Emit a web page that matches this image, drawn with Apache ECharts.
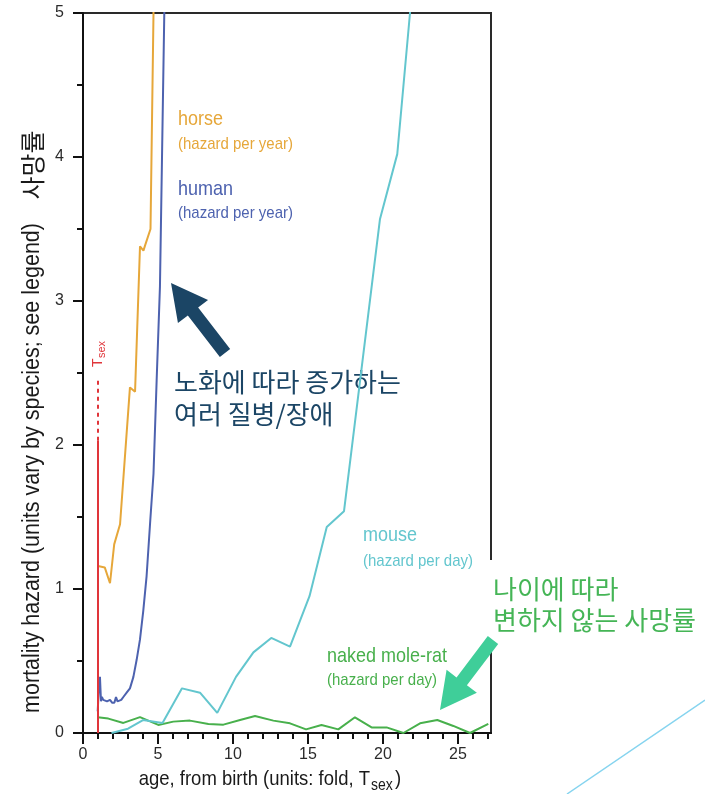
<!DOCTYPE html>
<html>
<head>
<meta charset="utf-8">
<script src="https://cdn.jsdelivr.net/npm/echarts@6/dist/echarts.min.js"></script>
<style>
  html, body { margin: 0; padding: 0; background: #ffffff; }
  #chart { width: 705px; height: 794px; }
</style>
</head>
<body>
<div id="chart"></div>
<script>
// Age (in multiples of T_sex) paired with mortality hazard, one list per species
const horse = [
  [1.0, 1.16], [1.45, 1.15], [1.8, 1.04], [2.08, 1.31], [2.47, 1.45],
  [3.13, 2.4], [3.47, 2.37], [3.8, 3.38], [4.03, 3.35], [4.15, 3.39],
  [4.5, 3.5], [4.7, 5.0], [4.76, 5.5]
];
const human = [
  [0.98, 0.15], [1.05, 0.3], [1.13, 0.39], [1.2, 0.22], [1.26, 0.25],
  [1.35, 0.23], [1.47, 0.23], [1.6, 0.22], [1.8, 0.23], [1.95, 0.21],
  [2.09, 0.21], [2.2, 0.25], [2.3, 0.22], [2.4, 0.22], [2.55, 0.23],
  [2.69, 0.25], [2.91, 0.28], [3.13, 0.31], [3.36, 0.39], [3.58, 0.51],
  [3.8, 0.65], [4.02, 0.85], [4.24, 1.09], [4.5, 1.5], [4.7, 1.8],
  [4.91, 2.45], [5.13, 3.1], [5.26, 3.95], [5.42, 5.0], [5.5, 5.6]
];
const mouse = [
  [1.9, 0.0], [3.0, 0.03], [4.0, 0.09], [5.3, 0.07], [6.6, 0.31],
  [7.8, 0.28], [8.95, 0.14], [10.2, 0.39], [11.36, 0.56], [12.55, 0.66],
  [13.8, 0.6], [15.1, 0.95], [16.25, 1.43], [17.4, 1.54], [19.8, 3.57],
  [20.95, 4.02], [21.8, 5.0], [22.0, 5.3]
];
const moleRat = [
  [0.98, 0.11], [1.69, 0.1], [2.69, 0.07], [3.8, 0.11], [5.02, 0.056],
  [6.02, 0.079], [7.13, 0.086], [8.36, 0.063], [9.36, 0.058], [10.47, 0.09],
  [11.47, 0.118], [12.69, 0.086], [13.8, 0.067], [14.87, 0.025], [15.9, 0.056],
  [17.02, 0.025], [18.13, 0.109], [19.24, 0.039], [20.24, 0.039], [21.36, 0.0],
  [22.47, 0.067], [23.62, 0.09], [24.69, 0.049], [25.8, 0.0], [27.02, 0.063]
];

// Age at sexual maturity and the heights of its marker line
const tSexAge = 1;
const tSexSolidTop = 2.03;
const tSexDashTop = 2.47;

// Axis ranges and ticks
const xMax = 27.2;
const yMax = 5;
const xMajorTicks = [0, 5, 10, 15, 20, 25];
const xMinorTicks = [0, 1, 2, 3, 4, 5, 6, 7, 8, 9, 10, 11, 12, 13, 14, 15, 16, 17, 18, 19, 20, 21, 22, 23, 24, 25, 26, 27];

const COLORS = {
  horse: '#E6A73A',
  human: '#4D62AF',
  mouse: '#63C6CE',
  moleRat: '#48B04C',
  tSex: '#E0353A',
  navy: '#1B4565',
  mint: '#3FCE99',
  greenText: '#45B556'
};

const LATIN = '"Liberation Sans", Arial, sans-serif';
const KOREAN = '"Noto Sans CJK KR", sans-serif';
const TALL = 1.13; // narrow, tall lettering for the Latin captions

const chart = echarts.init(document.getElementById('chart'), null, { renderer: 'canvas' });

// Filled block arrow built from tail, tip and widths
function arrowPoints(tail, tip, shaftHalf, headLen, headHalf) {
  const dx = tip[0] - tail[0], dy = tip[1] - tail[1];
  const len = Math.hypot(dx, dy);
  const ux = dx / len, uy = dy / len;
  const nx = -uy, ny = ux;
  const bx = tip[0] - ux * headLen, by = tip[1] - uy * headLen;
  return [
    [tail[0] + nx * shaftHalf, tail[1] + ny * shaftHalf],
    [bx + nx * shaftHalf, by + ny * shaftHalf],
    [bx + nx * headHalf, by + ny * headHalf],
    [tip[0], tip[1]],
    [bx - nx * headHalf, by - ny * headHalf],
    [bx - nx * shaftHalf, by - ny * shaftHalf],
    [tail[0] - nx * shaftHalf, tail[1] - ny * shaftHalf]
  ];
}

function label(x, y, text, color, size, align) {
  return {
    type: 'text', x: x, y: y, z: 50, scaleY: TALL,
    style: { text: text, fill: color, font: size + 'px ' + LATIN, textAlign: align || 'left', textVerticalAlign: 'middle' }
  };
}

function hangul(x, y, text, color, z) {
  return {
    type: 'text', x: x, y: y, z: z,
    style: { text: text, fill: color, font: '26px ' + KOREAN, textAlign: 'left', textVerticalAlign: 'middle' }
  };
}

function lineSeries(name, data, color) {
  return {
    name: name, type: 'line', data: data, showSymbol: false, symbol: 'none',
    lineStyle: { color: color, width: 2 }, itemStyle: { color: color },
    clip: true, z: 3, silent: true
  };
}

const option = {
  animation: false,
  backgroundColor: '#ffffff',
  grid: {
    left: 83, top: 13, right: 214, bottom: 61,
    show: true, borderColor: '#2a2a2a', borderWidth: 2, backgroundColor: 'transparent'
  },
  xAxis: [
    {
      type: 'value', min: 0, max: xMax, position: 'bottom',
      axisLine: { show: true, onZero: false, lineStyle: { color: '#111', width: 2 } },
      axisTick: { show: true, inside: false, length: 11, customValues: xMajorTicks, lineStyle: { color: '#111', width: 2 } },
      axisLabel: { show: true, customValues: xMajorTicks, margin: 14, color: '#2b2b2b', fontSize: 16, fontFamily: LATIN },
      splitLine: { show: false }
    },
    {
      type: 'value', min: 0, max: xMax, position: 'bottom',
      axisLine: { show: false, onZero: false },
      axisTick: { show: true, inside: false, length: 6, customValues: xMinorTicks, lineStyle: { color: '#111', width: 2 } },
      axisLabel: { show: false },
      splitLine: { show: false }
    }
  ],
  yAxis: {
    type: 'value', min: 0, max: yMax, interval: 1,
    axisLine: { show: true, onZero: false, lineStyle: { color: '#111', width: 2 } },
    axisTick: { show: true, inside: false, length: 10, lineStyle: { color: '#111', width: 2 } },
    minorTick: { show: true, splitNumber: 2, length: 6, lineStyle: { color: '#111', width: 2 } },
    axisLabel: { margin: 19, color: '#2b2b2b', fontSize: 16, fontFamily: LATIN },
    splitLine: { show: false }
  },
  series: [
    lineSeries('naked mole-rat', moleRat, COLORS.moleRat),
    lineSeries('mouse', mouse, COLORS.mouse),
    lineSeries('human', human, COLORS.human),
    lineSeries('horse', horse, COLORS.horse),
    {
      name: 'T_sex', type: 'line', showSymbol: false, symbol: 'none', z: 4, silent: true,
      data: [[tSexAge, 0], [tSexAge, tSexSolidTop]],
      lineStyle: { color: COLORS.tSex, width: 2 }
    },
    {
      name: 'T_sex dashed', type: 'line', showSymbol: false, symbol: 'none', z: 4, silent: true,
      data: [[tSexAge, tSexSolidTop], [tSexAge, tSexDashTop]],
      lineStyle: { color: COLORS.tSex, width: 2, type: [4, 4] }
    }
  ],
  graphic: [
    // species captions
    label(178, 119, 'horse', COLORS.horse, 18),
    label(178, 144, '(hazard per year)', COLORS.horse, 15),
    label(178, 189, 'human', COLORS.human, 18),
    label(178, 213, '(hazard per year)', COLORS.human, 15),
    label(363, 535, 'mouse', COLORS.mouse, 18),
    label(363, 561, '(hazard per day)', COLORS.mouse, 15),
    label(327, 656, 'naked mole-rat', COLORS.moleRat, 18),
    label(327, 680, '(hazard per day)', COLORS.moleRat, 15),

    // T_sex marker caption, reading upward
    {
      type: 'group', x: 98, y: 367, rotation: Math.PI / 2, z: 50,
      children: [
        { type: 'text', x: 0, y: 0, style: { text: 'T', fill: COLORS.tSex, font: '14px ' + LATIN, textAlign: 'left', textVerticalAlign: 'middle' } },
        { type: 'text', x: 9, y: 4, style: { text: 'sex', fill: COLORS.tSex, font: '11px ' + LATIN, textAlign: 'left', textVerticalAlign: 'middle' } }
      ]
    },

    // axis titles
    {
      type: 'text', x: 32, y: 468, rotation: Math.PI / 2, z: 50, scaleY: TALL,
      style: { text: 'mortality hazard (units vary by species; see legend)', fill: '#1a1a1a', font: '21.5px ' + LATIN, textAlign: 'center', textVerticalAlign: 'middle' }
    },
    {
      type: 'text', x: 32, y: 165, rotation: Math.PI / 2, z: 50,
      style: { text: '사망률', fill: '#1a1a1a', font: '25px ' + KOREAN, textAlign: 'center', textVerticalAlign: 'middle' }
    },
    label(370, 779, 'age, from birth (units: fold, T', '#1a1a1a', 18.5, 'right'),
    label(371, 786, 'sex', '#1a1a1a', 14),
    label(395, 779, ')', '#1a1a1a', 18.5),

    // annotation: diseases that rise with ageing
    { type: 'polygon', z: 60, shape: { points: arrowPoints([225, 353], [171, 283], 6.5, 36, 19) }, style: { fill: COLORS.navy } },
    hangul(174, 382, '노화에 따라 증가하는', COLORS.navy, 2),
    hangul(174, 414, '여러 질병/장애', COLORS.navy, 2),

    // annotation: mortality that does not change with age
    { type: 'rect', z: 55, shape: { x: 487, y: 560, width: 218, height: 90 }, style: { fill: '#ffffff' } },
    hangul(493, 589, '나이에 따라', COLORS.greenText, 60),
    hangul(493, 620, '변하지 않는 사망률', COLORS.greenText, 60),
    { type: 'polygon', z: 60, shape: { points: arrowPoints([493, 640], [440, 710], 6.5, 36, 19) }, style: { fill: COLORS.mint } },

    // decorative corner stroke
    { type: 'line', z: 60, shape: { x1: 567, y1: 794, x2: 705, y2: 700 }, style: { stroke: '#86D4EF', lineWidth: 1.5 } }
  ]
};

chart.setOption(option);
</script>
</body>
</html>
